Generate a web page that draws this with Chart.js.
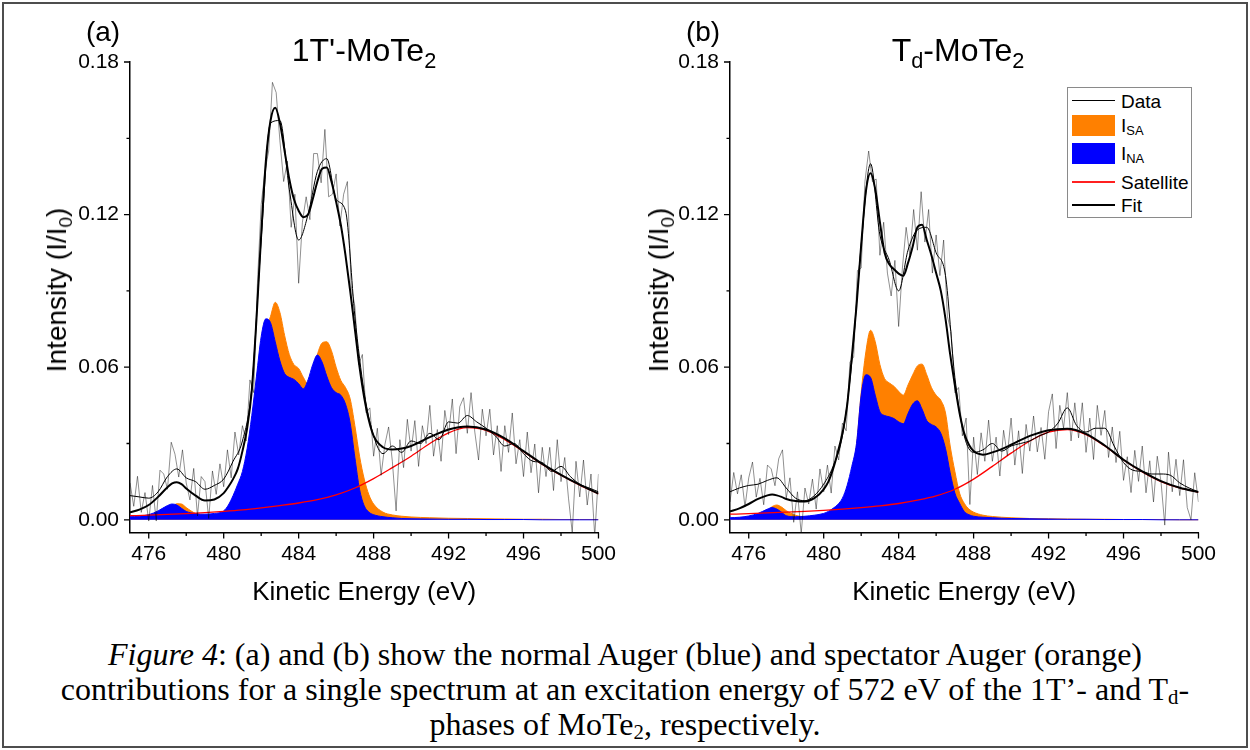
<!DOCTYPE html>
<html>
<head>
<meta charset="utf-8">
<script src="https://cdn.jsdelivr.net/npm/chart.js@4.4.0/dist/chart.umd.min.js"></script>
<style>
  body { margin:0; width:1250px; height:750px; background:#fff; position:relative; overflow:hidden;
         font-family:"Liberation Sans", Arial, sans-serif; color:#000; }
  .frame { position:absolute; left:2px; top:2px; width:1246px; height:746px; box-sizing:border-box; border:2px solid #4d4d4d; }
  canvas { position:absolute; top:0; }
  #chartA { left:0; }
  #chartB { left:600px; }
  .lbl { position:absolute; white-space:nowrap; transform:translate(-50%,-50%); line-height:1; }
  .panel { font-size:28px; top:32px; }
  .title { font-size:32px; top:50px; }
  .ytitle { font-size:28px; top:290px; transform:translate(-50%,-50%) rotate(-90deg); }
  sub { font-size:0.68em; vertical-align:-0.3em; line-height:0; }
  .legend { position:absolute; left:1067px; top:87px; width:125px; height:131px; box-sizing:border-box;
            border:1px solid #8a8a8a; background:#fff; font-size:19px; }
  .legend .sym { position:absolute; left:4px; width:43px; }
  .legend .txt { position:absolute; left:53px; line-height:1; transform:translateY(-50%); white-space:nowrap; }
  .caption { position:absolute; left:0; width:1250px; top:637px; text-align:center;
             font-family:"Liberation Serif", "Times New Roman", serif; font-size:32px; line-height:35px; }
  .caption sub { font-size:0.65em; vertical-align:-0.2em; }
</style>
</head>
<body>
<div class="frame"></div>
<canvas id="chartA" width="625" height="620"></canvas>
<canvas id="chartB" width="625" height="620"></canvas>

<div class="lbl panel" style="left:103px">(a)</div>
<div class="lbl title" style="left:364px">1T'-MoTe<sub>2</sub></div>
<div class="lbl ytitle" style="left:57px">Intensity (I/I<sub>0</sub>)</div>

<div class="lbl panel" style="left:703px">(b)</div>
<div class="lbl title" style="left:958px">T<sub>d</sub>-MoTe<sub>2</sub></div>
<div class="lbl ytitle" style="left:659px">Intensity (I/I<sub>0</sub>)</div>

<div class="legend">
  <div class="sym" style="top:12px;height:1px;background:#000"></div>
  <div class="txt" style="top:13px">Data</div>
  <div class="sym" style="top:27px;height:21px;background:#ff8000"></div>
  <div class="txt" style="top:37px">I<sub>SA</sub></div>
  <div class="sym" style="top:55px;height:21px;background:#0000ff"></div>
  <div class="txt" style="top:65px">I<sub>NA</sub></div>
  <div class="sym" style="top:93px;height:2px;background:#ff2020"></div>
  <div class="txt" style="top:94px">Satellite</div>
  <div class="sym" style="top:116px;height:2px;background:#000"></div>
  <div class="txt" style="top:117px">Fit</div>
</div>

<div class="caption"><i>Figure 4</i>: (a) and (b) show the normal Auger (blue) and spectator Auger (orange)<br>contributions for a single spectrum at an excitation energy of 572 eV of the 1T’- and T<sub>d</sub>-<br>phases of MoTe<sub>2</sub>, respectively.</div>

<script>
// axis ticks
const xMajorTicks = [476, 480, 484, 488, 492, 496, 500];
const xMinorTicks = [478, 482, 486, 490, 494, 498];
const yMajorTicks = [0, 0.06, 0.12, 0.18];
const yMinorTicks = [0.03, 0.09, 0.15];

// energy grids (eV)
const rawE = [475.0,475.2,475.4,475.6,475.8,476.0,476.2,476.4,476.6,476.8,
  477.0,477.2,477.4,477.6,477.8,478.0,478.2,478.4,478.6,478.8,
  479.0,479.2,479.4,479.6,479.8,480.0,480.2,480.4,480.6,480.8,
  481.0,481.2,481.4,481.6,481.8,482.0,482.2,482.4,482.6,482.8,
  483.0,483.2,483.4,483.6,483.8,484.0,484.2,484.4,484.6,484.8,
  485.0,485.2,485.4,485.6,485.8,486.0,486.2,486.4,486.6,486.8,
  487.0,487.2,487.4,487.6,487.8,488.0,488.2,488.4,488.6,488.8,
  489.0,489.2,489.4,489.6,489.8,490.0,490.2,490.4,490.6,490.8,
  491.0,491.2,491.4,491.6,491.8,492.0,492.2,492.4,492.6,492.8,
  493.0,493.2,493.4,493.6,493.8,494.0,494.2,494.4,494.6,494.8,
  495.0,495.2,495.4,495.6,495.8,496.0,496.2,496.4,496.6,496.8,
  497.0,497.2,497.4,497.6,497.8,498.0,498.2,498.4,498.6,498.8,
  499.0,499.2,499.4,499.6,499.8,500.0];
const smoothE = [475,475.5,476,476.5,477,477.5,478,478.5,479,479.5,
  480,480.5,481,481.5,482,482.5,483,483.5,484,484.5,
  485,485.5,486,486.5,487,487.5,488,488.5,489,489.5,
  490,490.5,491,491.5,492,492.5,493,493.5,494,494.5,
  495,495.5,496,496.5,497,497.5,498,498.5,499,499.5,500];
const compE = [475,475.5,476,476.5,477,
  477.25,477.5,477.75,478,
  478.5,479,479.5,480,
  480.25,480.5,480.75,481,
  481.25,481.5,481.75,482,
  482.25,482.5,482.75,483,
  483.25,483.5,483.75,484,
  484.25,484.5,484.75,485,
  485.25,485.5,485.75,486,
  486.25,486.5,486.75,487,
  487.25,487.5,487.75,488,
  488.5,489,489.5,490,
  491,492,493,494,495,496,497,498,499,500];
const satE = [475,476,477,478,479,480,481,482,483,484,485,486,487,
  488,489,490,491,492,493,494,495,496,497,498,499,500];

// ---- panel (a) 1T'-MoTe2 ----
const rawA = [.0145,.0053,.0171,.0029,.0107,-.0005,.0135,-.0005,.0195,.0180,
  .0120,.0305,.0258,.0168,.0275,.0145,.0078,.0202,.0015,.0170,
  .0150,.0005,.0192,.0100,.0220,.0130,.0275,.0165,.0345,.0255,
  .0370,.0310,.0550,.0500,.0930,.1240,.1370,.1450,.1720,.1680,
  .1490,.1330,.1410,.1150,.1280,.0930,.1170,.1270,.1180,.1440,
  .1440,.1325,.1535,.1270,.1280,.1360,.1155,.1280,.1330,.0920,
  .0840,.0610,.0650,.0420,.0440,.0250,.0360,.0175,.0295,.0365,
  .0230,.0035,.0315,.0205,.0395,.0270,.0390,.0210,.0370,.0300,
  .0450,.0250,.0355,.0230,.0430,.0335,.0475,.0260,.0445,.0480,
  .0340,.0500,.0345,.0235,.0435,.0330,.0435,.0255,.0370,.0190,
  .0370,.0265,.0420,.0220,.0315,.0170,.0345,.0185,.0298,.0106,
  .0285,.0170,.0285,.0115,.0315,.0150,.0245,.0085,-.0050,.0230,
  .0090,.0235,.0058,.0180,-.0065,.0180];
const smoothA = [.0095,.0090,.0085,.0110,.0170,.0200,.0165,.0150,.0120,.0135,
  .0160,.0230,.0310,.0520,.1100,.1560,.1570,.1300,.1100,.1200,
  .1370,.1420,.1260,.1215,.0800,.0500,.0330,.0260,.0290,.0265,
  .0310,.0300,.0340,.0315,.0385,.0380,.0410,.0385,.0360,.0330,
  .0290,.0300,.0260,.0230,.0225,.0190,.0210,.0170,.0140,.0125,.0110];
const inaA = [.0012,.0014,.0020,.0035,.0056,
  .0062,.0058,.0045,.0033,
  .0024,.0022,.0025,.0035,
  .0058,.0095,.0140,.0190,
  .0280,.0410,.0565,.0720,
  .0790,.0775,.0700,.0625,
  .0575,.0560,.0552,.0535,
  .0515,.0550,.0610,.0648,
  .0620,.0565,.0520,.0500,
  .0490,.0455,.0380,.0245,
  .0120,.0055,.0030,.0020,
  .0012,.0008,.0005,.0004,
  .0003,.0002,.0002,.0001,.0001,.0001,0,0,0,0];
const isaA = [.0008,.0010,.0012,.0020,.0035,
  .0050,.0063,.0062,.0048,
  .0025,.0018,.0020,.0030,
  .0045,.0075,.0115,.0160,
  .0240,.0360,.0500,.0640,
  .0740,.0800,.0855,.0815,
  .0725,.0650,.0610,.0595,
  .0560,.0535,.0575,.0650,
  .0695,.0700,.0665,.0600,
  .0548,.0520,.0475,.0370,
  .0250,.0160,.0098,.0062,
  .0030,.0019,.0014,.0011,
  .0008,.0006,.0005,.0004,.0003,.0002,.0002,.0001,.0001,.0001];
const fitA = [.0029,.0040,.0058,.0090,.0128,
  .0143,.0148,.0140,.0123,
  .0095,.0076,.0080,.0105,
  .0130,.0160,.0200,.0270,
  .0360,.0510,.0790,.1120,
  .1410,.1570,.1620,.1560,
  .1450,.1340,.1260,.1215,
  .1190,.1200,.1260,.1330,
  .1380,.1385,.1330,.1250,
  .1160,.1040,.0900,.0750,
  .0600,.0480,.0390,.0330,
  .0285,.0276,.0280,.0290,
  .0325,.0355,.0367,.0355,.0320,.0270,.0220,.0177,.0138,.0103];
const satA = [.0016,.0018,.0021,.0024,.0028,.0033,.0039,.0047,.0056,.0066,.0079,.0098,.0125,
  .0162,.0205,.0250,.0300,.0342,.0362,.0352,.0315,.0268,.0218,.0175,.0136,.0102];

// ---- panel (b) Td-MoTe2 ----
const rawB = [.0070,.0186,.0102,.0177,.0051,.0165,.0227,.0089,.0163,.0059,
  .0215,.0200,.0134,.0240,.0275,.0085,.0165,-.0010,.0110,-.0054,
  .0125,.0062,.0160,.0042,.0200,.0110,.0215,.0105,.0290,.0235,
  .0380,.0350,.0620,.0640,.0980,.0990,.1330,.1450,.1330,.1340,
  .1040,.1170,.0970,.0880,.1020,.0760,.0990,.1150,.1040,.1220,
  .1060,.1290,.1092,.1220,.0970,.1120,.0960,.1100,.0800,.0740,
  .0500,.0520,.0330,.0400,.0060,.0325,.0178,.0342,.0230,.0392,
  .0230,.0325,.0172,.0352,.0252,.0400,.0215,.0350,.0182,.0375,
  .0270,.0408,.0267,.0363,.0238,.0425,.0495,.0280,.0450,.0360,
  .0500,.0310,.0460,.0322,.0460,.0265,.0400,.0237,.0450,.0332,
  .0430,.0245,.0365,.0225,.0348,.0155,.0248,.0107,.0273,.0151,
  .0290,.0106,.0232,.0070,.0250,.0150,-.0021,.0266,.0110,.0238,
  .0095,.0236,.0048,.0000,.0185,.0070];
const smoothB = [.0110,.0125,.0135,.0140,.0155,.0165,.0125,.0085,.0075,.0095,
  .0140,.0210,.0330,.0620,.1080,.1400,.1120,.1020,.0900,.1060,
  .1140,.1150,.1050,.0960,.0560,.0330,.0265,.0275,.0300,.0270,
  .0290,.0300,.0310,.0330,.0345,.0380,.0440,.0370,.0345,.0360,
  .0360,.0290,.0225,.0195,.0190,.0180,.0180,.0175,.0145,.0125,.0110];
const inaB = [.0008,.0010,.0015,.0025,.0042,
  .0048,.0042,.0030,.0016,
  .0012,.0014,.0018,.0025,
  .0033,.0045,.0060,.0085,
  .0135,.0210,.0300,.0490,
  .0570,.0560,.0490,.0425,
  .0410,.0405,.0398,.0385,
  .0378,.0418,.0455,.0468,
  .0435,.0390,.0375,.0365,
  .0340,.0280,.0185,.0105,
  .0065,.0033,.0020,.0014,
  .0010,.0008,.0006,.0005,
  .0004,.0003,.0002,.0002,.0001,.0001,.0001,0,0,0];
const isaB = [.0005,.0007,.0010,.0018,.0035,
  .0052,.0058,.0050,.0036,
  .0018,.0012,.0015,.0020,
  .0027,.0036,.0050,.0070,
  .0110,.0180,.0290,.0500,
  .0660,.0745,.0700,.0610,
  .0555,.0538,.0525,.0505,
  .0490,.0530,.0570,.0605,
  .0612,.0570,.0520,.0490,
  .0470,.0420,.0290,.0190,
  .0105,.0065,.0042,.0030,
  .0018,.0013,.0010,.0008,
  .0005,.0004,.0003,.0002,.0002,.0001,.0001,.0001,0,0];
const fitB = [.0033,.0045,.0062,.0082,.0096,
  .0099,.0096,.0090,.0082,
  .0074,.0072,.0085,.0120,
  .0150,.0200,.0265,.0340,
  .0450,.0640,.0840,.1080,
  .1290,.1363,.1300,.1170,
  .1050,.1005,.0985,.0968,
  .0960,.1010,.1075,.1150,
  .1160,.1100,.1040,.0970,
  .0900,.0790,.0650,.0530,
  .0420,.0340,.0295,.0270,
  .0256,.0265,.0278,.0295,
  .0330,.0352,.0358,.0338,.0292,.0236,.0190,.0152,.0126,.0109];
const satB = [.0022,.0024,.0027,.0030,.0033,.0037,.0042,.0048,.0055,.0064,.0077,.0094,.0120,
  .0160,.0210,.0262,.0310,.0345,.0355,.0335,.0290,.0235,.0188,.0150,.0125,.0108];

Chart.defaults.font.family = '"Liberation Sans", Arial, sans-serif';
Chart.defaults.color = '#000';

function pts(xs, ys) {
  return xs.map((x, i) => ({x: x, y: ys[i]}));
}

// origin-style tick marks (major longer than minor), drawn outside the axes
const tickMarks = {
  id: 'tickMarks',
  afterDraw(chart) {
    const ctx = chart.ctx, sx = chart.scales.x, sy = chart.scales.y;
    const a = chart.chartArea;
    ctx.save();
    ctx.strokeStyle = '#000';
    ctx.lineWidth = 1.3;
    ctx.beginPath();
    xMajorTicks.forEach(v => { const p = sx.getPixelForValue(v); ctx.moveTo(p, a.bottom); ctx.lineTo(p, a.bottom + 6); });
    xMinorTicks.forEach(v => { const p = sx.getPixelForValue(v); ctx.moveTo(p, a.bottom); ctx.lineTo(p, a.bottom + 3.5); });
    yMajorTicks.forEach(v => { const p = sy.getPixelForValue(v); ctx.moveTo(a.left, p); ctx.lineTo(a.left - 6, p); });
    yMinorTicks.forEach(v => { const p = sy.getPixelForValue(v); ctx.moveTo(a.left, p); ctx.lineTo(a.left - 3.5, p); });
    ctx.stroke();
    ctx.restore();
  }
};

function makeChart(id, raw, smooth, ina, isa, fit, sat) {
  const ctx = document.getElementById(id).getContext('2d');
  return new Chart(ctx, {
    type: 'line',
    data: {
      datasets: [
        {label: 'Fit', data: pts(compE, fit), borderColor: '#000', borderWidth: 2,
         pointRadius: 0, cubicInterpolationMode: 'monotone', fill: false},
        {label: 'Data (smoothed)', data: pts(smoothE, smooth), borderColor: '#000', borderWidth: 1,
         pointRadius: 0, cubicInterpolationMode: 'monotone', fill: false},
        {label: 'Data', data: pts(rawE, raw), borderColor: 'rgba(0,0,0,0.55)', borderWidth: 0.8,
         pointRadius: 0, tension: 0, fill: false},
        {label: 'Satellite', data: pts(satE, sat), borderColor: '#ff0000', borderWidth: 1.3,
         pointRadius: 0, cubicInterpolationMode: 'monotone', fill: false},
        {label: 'INA', data: pts(compE, ina), borderColor: '#0000ff', borderWidth: 1,
         backgroundColor: '#0000ff', pointRadius: 0, cubicInterpolationMode: 'monotone', fill: 'origin'},
        {label: 'ISA', data: pts(compE, isa), borderColor: '#ff8000', borderWidth: 1,
         backgroundColor: '#ff8000', pointRadius: 0, cubicInterpolationMode: 'monotone', fill: 'origin'}
      ]
    },
    options: {
      responsive: false,
      animation: false,
      layout: {padding: {top: 62, right: 24.5, left: 0, bottom: 0}},
      plugins: {legend: {display: false}, tooltip: {enabled: false}},
      scales: {
        x: {
          type: 'linear', min: 475, max: 500,
          afterFit(s) { s.height = 87.5; },
          afterBuildTicks(s) { s.ticks = xMajorTicks.map(v => ({value: v})); },
          grid: {display: false, drawTicks: false},
          border: {display: true, color: '#000', width: 1.5},
          ticks: {font: {size: 21}, padding: 9, maxRotation: 0, autoSkip: false},
          title: {display: true, text: 'Kinetic Energy (eV)', font: {size: 26}, padding: {top: 0, bottom: 12}}
        },
        y: {
          type: 'linear', min: -0.005, max: 0.18,
          afterFit(s) { s.width = 130; },
          afterBuildTicks(s) { s.ticks = yMajorTicks.map(v => ({value: v})); },
          grid: {display: false, drawTicks: false},
          border: {display: true, color: '#000', width: 1.5},
          ticks: {font: {size: 21}, padding: 11, callback: v => v.toFixed(2)}
        }
      }
    },
    plugins: [tickMarks]
  });
}

makeChart('chartA', rawA, smoothA, inaA, isaA, fitA, satA);
makeChart('chartB', rawB, smoothB, inaB, isaB, fitB, satB);
</script>
</body>
</html>
